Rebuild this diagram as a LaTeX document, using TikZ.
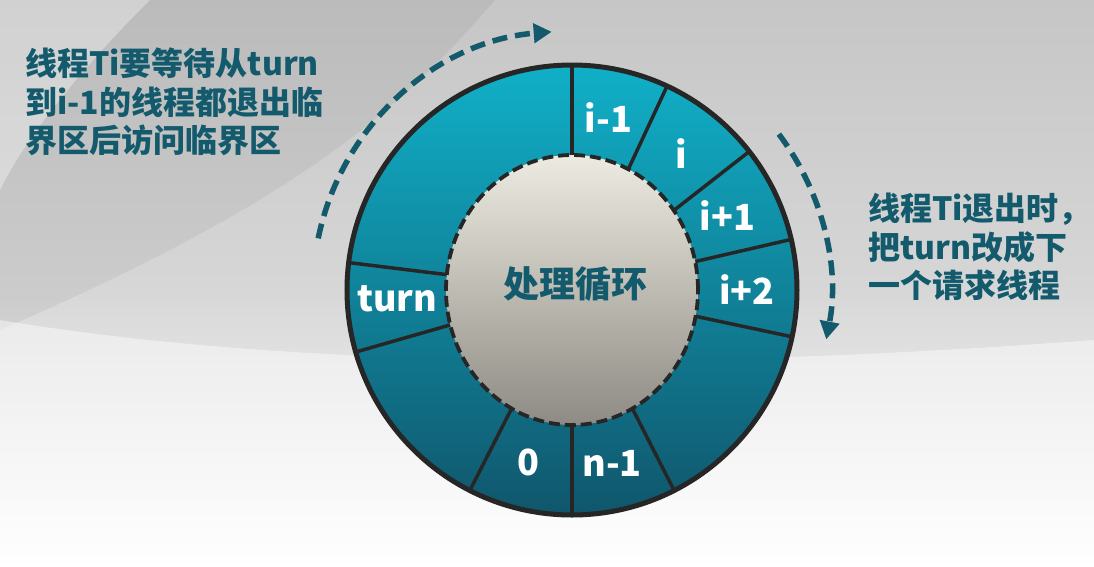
\documentclass[tikz,border=0pt]{standalone}
\usepackage{fontspec}
\setmainfont{Noto Sans CJK SC}
\usetikzlibrary{arrows.meta}
\definecolor{ringtop}{RGB}{16,176,200}
\definecolor{ringbot}{RGB}{16,86,108}
\definecolor{hubtop}{RGB}{237,235,225}
\definecolor{hubbot}{RGB}{142,139,132}
\definecolor{tealtext}{RGB}{18,90,108}
\definecolor{rimline}{RGB}{38,38,38}
\tikzset{
    slotlabel/.style={text=white, font=\bfseries\fontsize{36}{40}\selectfont, inner sep=0pt},
    notetext/.style={text=tealtext, font=\bfseries\fontsize{32}{38.5}\selectfont, align=left, inner sep=0pt, anchor=north west},
    turnarrow/.style={draw=tealtext, line width=5.5pt, dash pattern=on 15pt off 8pt, -{Triangle[length=18pt,width=19pt]}},
    }

\begin{document}
\begin{tikzpicture}[x=1pt, y=1pt]
% background
\useasboundingbox (-572,-276) rectangle (522,290);
\shade[top color={rgb,255:red,198;green,198;blue,198}, bottom color=white, middle color={rgb,255:red,214;green,214;blue,214}] (-572,-276) rectangle (522,290);
\fill[white, opacity=0.2] (-572,290) -- (-422,290) .. controls (-482,230) and (-542,160) .. (-572,100) -- cycle;
\fill[black, opacity=0.05] (-422,290) .. controls (-482,230) and (-542,160) .. (-572,100) -- (-572,-40) .. controls (-272,90) and (-172,180) .. (-77,290) -- cycle;
\fill[white, opacity=0.45] (-572,-30) .. controls (-272,-80) and (128,-80) .. (522,-50) -- (522,-276) -- (-572,-276) -- cycle;

% ring of slots
\shade[top color=ringtop, bottom color=ringbot] (0,0) circle (225);
\foreach \a in {90,65,38,13,-12,-63,-90,-117,-164,173}
    \draw[rimline, line width=3.5pt] (0,0) -- (\a:225);
\shade[top color=hubtop, bottom color=hubbot] (0,0) ellipse (126 and 135);
\draw[rimline, line width=3.8pt, dash pattern=on 11pt off 5pt] (0,0) ellipse (126 and 135);
\draw[rimline, line width=5pt] (0,0) circle (225);

\node[text=tealtext, font=\bfseries\fontsize{36}{40}\selectfont] (hubtitle) at (3,6) {处理循环};

\node[slotlabel] (slotprev) at (78:176) {i-1};
\node[slotlabel] (sloti) at (51.5:175) {i};
\node[slotlabel] (slotnext) at (25.5:172) {i+1};
\node[slotlabel] (slotafter) at (0:175) {i+2};
\node[slotlabel] (slotturn) at (183:175) {turn};
\node[slotlabel] (slotzero) at (-104:178) {0};
\node[slotlabel] (slotlast) at (-77:178) {n-1};

% notes and arrows
\node[notetext] (waitnote) at (-547,242) {线程Ti要等待从turn\\到i-1的线程都退出临\\界区后访问临界区};
\node[notetext] (exitnote) at (296,97) {线程Ti退出时，\\把turn改成下\\一个请求线程};

\draw[turnarrow] (168.5:259) arc[start angle=168.5, end angle=94.5, radius=259];
\draw[turnarrow] (37:259) arc[start angle=37, end angle=-11, radius=259];
\end{tikzpicture}
\end{document}
